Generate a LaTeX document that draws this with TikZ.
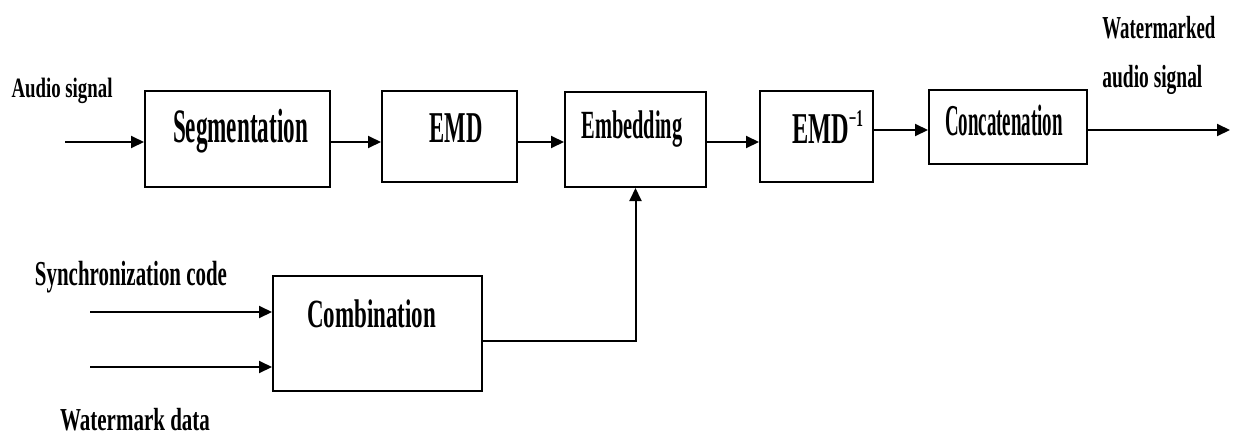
\documentclass[tikz,border=0pt]{standalone}
\usepackage{graphicx}
\usepackage{fontspec}
\setmainfont{Liberation Serif}
\usetikzlibrary{arrows.meta}
% condensed label: size, target width, text
\newcommand\lbl[3]{\fontsize{#1}{#1}\selectfont\resizebox{#2}{\height}{#3}}
\tikzset{
  blk/.style={draw, line width=1pt, inner sep=0pt},
  txt/.style={inner sep=0pt, anchor=base, font=\bfseries},
  flow/.style={line width=1pt, -{Triangle[length=6.5pt,width=6pt]}},
  wire/.style={line width=1pt}
}
\begin{document}
\begin{tikzpicture}[x=0.5pt, y=-0.5pt]
\useasboundingbox (0,0) rectangle (1233,434);

% processing blocks
\node[blk, minimum width=92.5pt, minimum height=48pt]   (seg)  at (237.5,139)  {};
\node[blk, minimum width=67.5pt, minimum height=45.5pt] (emd)  at (449.5,136.5) {};
\node[blk, minimum width=70.5pt, minimum height=47.5pt] (emb)  at (635.5,139.5) {};
\node[blk, minimum width=56.5pt, minimum height=45.5pt] (emdi) at (816.5,136.5) {};
\node[blk, minimum width=79pt,   minimum height=37pt]   (cat)  at (1008,127)   {};
\node[blk, minimum width=104.5pt,minimum height=57.5pt] (comb) at (377.5,333.5) {};

% block labels
\node[txt] (segT)  at (240.5,142) {\lbl{24}{67.5pt}{Segmentation}};
\node[txt] (emdT)  at (456,142)   {\lbl{22}{26.5pt}{EMD}};
\node[txt] (embT)  at (632,138)   {\lbl{20}{50.5pt}{Embedding}};
\node[txt] (emdiT) at (827.5,143) {\lbl{22}{35.5pt}{EMD\raisebox{0.38em}{\fontsize{12}{12}\selectfont −1}}};
\node[txt] (catT)  at (1004,135)  {\lbl{22}{59pt}{Concatenation}};
\node[txt] (combT) at (371.5,327) {\lbl{20}{64.5pt}{Combination}};

% signal labels
\node[txt] (inT)   at (62,97)     {\lbl{14}{50.5pt}{Audio signal}};
\node[txt, anchor=base west] (outT1) at (1102,38) {\lbl{16}{56.5pt}{Watermarked}};
\node[txt, anchor=base west] (outT2) at (1102,87) {\lbl{16}{50pt}{audio signal}};
\node[txt] (syncT) at (131,285)   {\lbl{17.5}{96pt}{Synchronization code}};
\node[txt] (wmT)   at (135,430)   {\lbl{16}{75pt}{Watermark data}};

% free ends and routing rows
\coordinate (row)  at (0,142);
\coordinate (row2) at (0,130);
\coordinate (ain)  at (65,142);
\coordinate (aout) at (1230,130);
\coordinate (sin)  at (90,312);
\coordinate (win)  at (90,367);
\coordinate (jn)   at (0,341);

% main chain
\draw[flow] (ain) -- (seg.west |- ain);
\draw[flow] (seg.east |- row) -- (emd.west |- row);
\draw[flow] (emd.east |- row) -- (emb.west |- row);
\draw[flow] (emb.east |- row) -- (emdi.west |- row);
\draw[flow] (emdi.east |- row2) -- (cat.west |- row2);
\draw[flow] (cat.east |- row2) -- (aout);

% watermark branch
\draw[flow] (sin) -- (comb.west |- sin);
\draw[flow] (win) -- (comb.west |- win);
\draw[flow] (comb.east |- jn) -- (emb.south |- jn) -- (emb.south);
\end{tikzpicture}
\end{document}
